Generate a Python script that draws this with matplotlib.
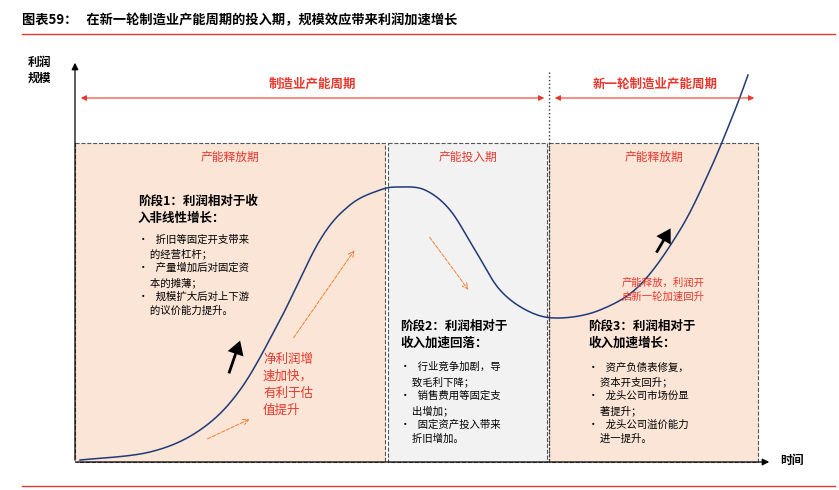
import matplotlib.pyplot as plt
import numpy as np
from matplotlib.patches import Rectangle

plt.rcParams['font.family'] = ['Noto Sans CJK SC', 'DejaVu Sans']

# curve (pixel coords, y downwards)
curve_x = [80, 150, 200, 240, 280, 320, 350, 380, 400, 425, 450, 475, 500, 530, 560, 600, 640, 680, 710, 735, 748]
curve_y = [460, 452, 430, 390, 320, 240, 205, 190, 187, 190, 210, 250, 290, 312, 318, 310, 285, 230, 170, 110, 75]

box_x = [75, 388, 549]
box_w = [310, 159, 209]
box_fill = ['#fbe5d6', '#f2f2f2', '#fbe5d6']
box_titles = ['产能释放期', '产能投入期', '产能释放期']

RED = '#e8382e'
ORANGE = '#ef7d31'


def catmull(xs, ys, n=20):
    p = np.column_stack([xs, ys]).astype(float)
    p = np.vstack([p[0], p, p[-1]])
    out = []
    for i in range(1, len(p) - 2):
        p0, p1, p2, p3 = p[i - 1], p[i], p[i + 1], p[i + 2]
        for t in np.linspace(0, 1, n, endpoint=False):
            out.append(0.5 * ((2 * p1) + (-p0 + p2) * t + (2 * p0 - 5 * p1 + 4 * p2 - p3) * t ** 2
                              + (-p0 + 3 * p1 - 3 * p2 + p3) * t ** 3))
    out.append(p[-2])
    return np.array(out)


fig = plt.figure(figsize=(8.39, 4.90), dpi=100)
ax = fig.add_axes([0, 0, 1, 1])
ax.set_xlim(0, 839)
ax.set_ylim(490, 0)
ax.axis('off')

# title and rules
ax.text(22, 20, '图表59：   在新一轮制造业产能周期的投入期，规模效应带来利润加速增长',
        fontsize=9.5, fontweight='bold', va='center')
ax.plot([22, 835], [34, 34], color=RED, lw=1)
ax.plot([22, 835], [486, 486], color=RED, lw=1)

# boxes
for x, w, c, t in zip(box_x, box_w, box_fill, box_titles):
    ax.add_patch(Rectangle((x, 143), w, 319, facecolor=c, edgecolor='#555555', ls='--', lw=0.8))
    ax.text(x + w / 2, 157, t, color=RED, fontsize=8.5, ha='center', va='center')

# axes arrows
ax.annotate('', xy=(75, 60), xytext=(75, 463),
            arrowprops=dict(arrowstyle='-|>', color='black', lw=0.9))
ax.annotate('', xy=(772, 462), xytext=(74, 462),
            arrowprops=dict(arrowstyle='-|>', color='black', lw=0.9))
ax.text(28, 70, '利润\n规模', fontsize=8.5, fontweight='bold', va='center', linespacing=1.3)
ax.text(780, 460, '时间', fontsize=8.5, fontweight='bold', va='center')

# cycle arrows on top
ax.plot([549, 549], [72, 462], color='#333333', ls=':', lw=1)
ax.annotate('', xy=(78, 98), xytext=(547, 98),
            arrowprops=dict(arrowstyle='<|-|>', color=RED, lw=0.8, mutation_scale=8))
ax.annotate('', xy=(552, 98), xytext=(757, 98),
            arrowprops=dict(arrowstyle='<|-|>', color=RED, lw=0.8, mutation_scale=8))
ax.text(312, 84, '制造业产能周期', color=RED, fontsize=9, fontweight='bold', ha='center', va='center')
ax.text(655, 84, '新一轮制造业产能周期', color=RED, fontsize=9, fontweight='bold', ha='center', va='center')

# curve
pts = catmull(curve_x, curve_y)
ax.plot(pts[:, 0], pts[:, 1], color='#1f3a78', lw=1.1)

# stage texts
ax.text(138, 210, '阶段1：利润相对于收\n入非线性增长：', fontsize=9, fontweight='bold', va='center', linespacing=1.4)
ax.text(138, 275, '•   折旧等固定开支带来\n     的经营杠杆；\n•   产量增加后对固定资\n     本的摊薄；\n'
        '•   规模扩大后对上下游\n     的议价能力提升。', fontsize=7.5, va='center', linespacing=1.45)
ax.text(400, 335, '阶段2：利润相对于\n收入加速回落：', fontsize=9, fontweight='bold', va='center', linespacing=1.4)
ax.text(400, 403, '•   行业竞争加剧，导\n     致毛利下降；\n•   销售费用等固定支\n     出增加；\n'
        '•   固定资产投入带来\n     折旧增加。', fontsize=7.5, va='center', linespacing=1.45)
ax.text(588, 335, '阶段3：利润相对于\n收入加速增长：', fontsize=9, fontweight='bold', va='center', linespacing=1.4)
ax.text(588, 403, '•   资产负债表修复，\n     资本开支回升；\n•   龙头公司市场份显\n     著提升；\n'
        '•   龙头公司溢价能力\n     进一提升。', fontsize=7.5, va='center', linespacing=1.45)

ax.text(263, 385, '净利润增\n速加快，\n有利于估\n值提升', color=RED, fontsize=9, va='center', linespacing=1.4)
ax.text(622, 290, '产能释放，利润开\n启新一轮加速回升', color=RED, fontsize=7.5, va='center', linespacing=1.5)

# arrows
ax.annotate('', xy=(241, 338), xytext=(228, 376),
            arrowprops=dict(arrowstyle='simple,head_width=1.2,head_length=1', color='black', lw=0))
ax.annotate('', xy=(672, 226), xytext=(655, 255),
            arrowprops=dict(arrowstyle='simple,head_width=1.2,head_length=1', color='black', lw=0))
for (x0, y0), (x1, y1) in [((205, 440), (252, 418)), ((292, 340), (356, 248)), ((428, 235), (470, 292))]:
    ax.annotate('', xy=(x1, y1), xytext=(x0, y0),
                arrowprops=dict(arrowstyle='->', color=ORANGE, lw=0.7, ls='--'))

fig.savefig('out.png', dpi=100)
